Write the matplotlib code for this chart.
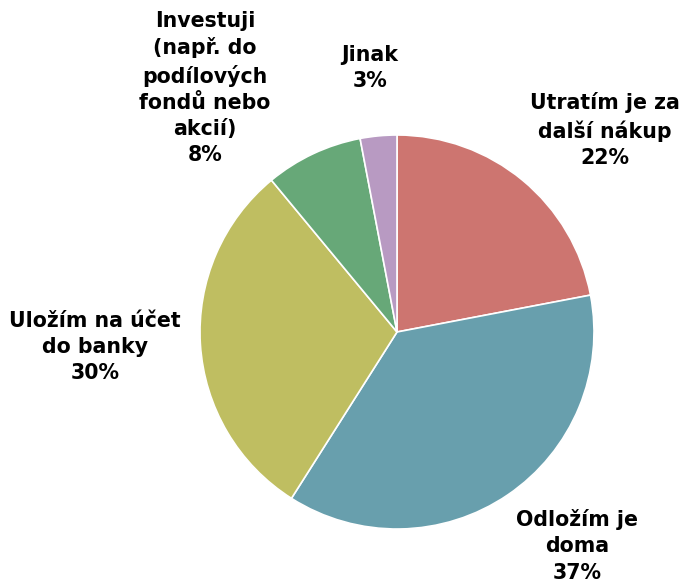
import matplotlib.pyplot as plt

labels = ['Utratím je za\ndalší nákup', 'Odložím je\ndoma', 'Uložím na účet\ndo banky',
          'Investuji\n(např. do\npodílových\nfondů nebo\nakcií)', 'Jinak']
shares = [22, 37, 30, 8, 3]
colors = ['#CD7570', '#689FAD', '#BFBE61', '#67A878', '#B89AC2']

W, H = 686, 580
fig = plt.figure(figsize=(W / 100, H / 100), dpi=100)
ax = fig.add_axes([0, 0, 1, 1])

ax.pie(shares, colors=colors, startangle=90, counterclock=False,
       center=(397, H - 332), radius=197,
       wedgeprops=dict(edgecolor='white', linewidth=1.2))

# pie() rescales the axes, so fix them to pixel units afterwards
ax.set_xlim(0, W)
ax.set_ylim(0, H)
ax.set_aspect('equal')
ax.axis('off')

# label centres in pixel coordinates (from top-left)
label_pos = [(605, 130), (577, 546), (95, 347), (205, 88), (370, 68)]
for lab, val, (x, y) in zip(labels, shares, label_pos):
    ax.text(x, H - y, f'{lab}\n{val}%', ha='center', va='center',
            fontsize=14.8, fontweight='bold', family='DejaVu Sans',
            linespacing=1.38)

fig.savefig('out.png', dpi=100)
